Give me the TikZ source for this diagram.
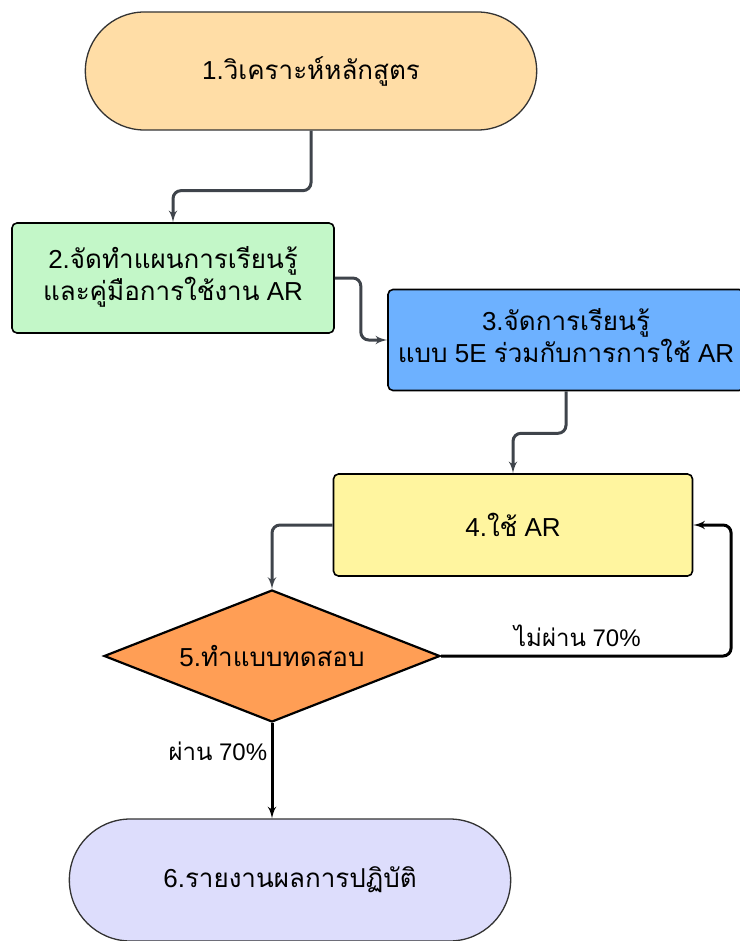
\documentclass[tikz,border=0pt]{standalone}
\usepackage{fontspec}
\setmainfont{Liberation Sans}
\newfontfamily\thaifont[Script=Thai]{Loma}
\newcommand{\thai}[1]{{\thaifont #1}}
\usetikzlibrary{shapes,arrows}

\definecolor{peach}{HTML}{FFDDA6}
\definecolor{mint}{HTML}{C3F7C8}
\definecolor{skyblue}{HTML}{6DB1FF}
\definecolor{lemon}{HTML}{FFF59F}
\definecolor{tangerine}{HTML}{FF9E55}
\definecolor{lavender}{HTML}{DDDDFC}
\definecolor{slate}{HTML}{3F444B}

\begin{document}
\begin{tikzpicture}[x=1pt,y=-1pt,auto,
    block_round/.style ={rounded rectangle, draw=black!80, line width=1.3pt,
      minimum width=458pt, minimum height=118pt,
      font=\fontsize{26}{31}\selectfont},
    block_center/.style ={rectangle, rounded corners=5pt, draw=black, line width=1.6pt,
      text centered, font=\fontsize{26}{31}\selectfont},
    block_test/.style ={diamond, draw=black, line width=2.2pt, fill=tangerine,
      minimum width=336pt, minimum height=132pt, aspect=2.55, inner sep=0pt,
      font=\fontsize{26}{31}\selectfont},
    line/.style ={draw, slate, line width=3pt, rounded corners=8pt, -latex', shorten >=0pt},
    line_dark/.style ={draw, black, line width=3pt, rounded corners=8pt, -latex', shorten >=0pt},
    tag/.style ={font=\fontsize{24}{28}\selectfont, text=black}]
    \useasboundingbox (0,0) rectangle (739,941);
    % flowchart blocks
    \node [block_round, fill=peach] (analyse) at (311,71) {1.\thai{วิเคราะห์หลักสูตร}};
    \node [block_center, fill=mint, minimum width=322pt, minimum height=110pt] (plan) at (173,278)
      {\begin{tabular}{c}2.\thai{จัดทำแผนการเรียนรู้}\\\thai{และคู่มือการใช้งาน} AR\end{tabular}};
    \node [block_center, fill=skyblue, minimum width=356pt, minimum height=101pt] (teach) at (566,340)
      {\begin{tabular}{c}3.\thai{จัดการเรียนรู้}\\\thai{แบบ} 5E \thai{ร่วมกับการการใช้} AR\end{tabular}};
    \node [block_center, fill=lemon, minimum width=359pt, minimum height=102pt] (use_ar) at (513,525)
      {4.\thai{ใช้} AR};
    \node [block_test] (test) at (272,656) {5.\thai{ทำแบบทดสอบ}};
    \node [block_round, fill=lavender, minimum width=448pt, minimum height=122pt] (report) at (290,880)
      {6.\thai{รายงานผลการปฏิบัติ}};
    % connecting nodes with paths
    \path [line] (analyse.south) -- ++(0,60) -| (plan.north);
    \path [line] (plan.east) -- ++(26,0) |- (teach.west);
    \path [line] (teach.south) -- ++(0,42) -| (use_ar.north);
    \path [line] (use_ar.west) -| (test.north);
    \path [line_dark] (test.east) -- node [tag, above, pos=0.47, yshift=4pt] {\thai{ไม่ผ่าน} 70\%} ++(290,0)
      |- (use_ar.east);
    \path [line_dark] (test.south) -- node [tag, left, pos=0.3] {\thai{ผ่าน} 70\%} (test.south |- report.north);
\end{tikzpicture}
\end{document}
